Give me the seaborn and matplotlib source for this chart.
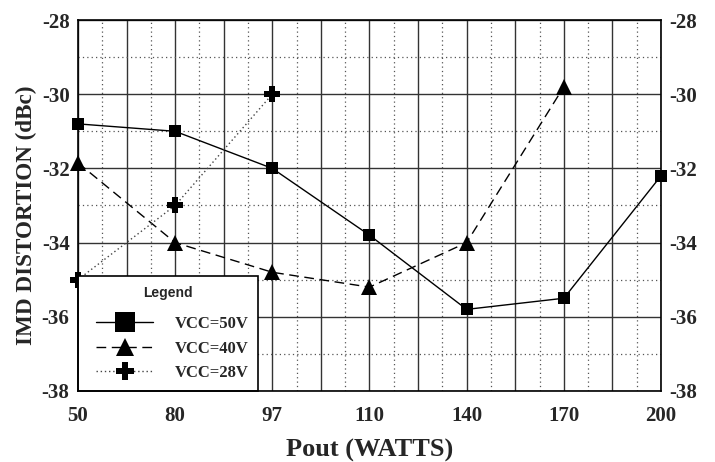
import copy
import numpy as np
import seaborn as sns
import matplotlib.pyplot as plt
from matplotlib.lines import Line2D
from matplotlib.legend_handler import HandlerLine2D
from matplotlib.ticker import MultipleLocator, FuncFormatter

# Pout values are spaced evenly on the axis, so plot against their index
pout = ["50", "80", "97", "110", "140", "170", "200"]

vcc50_x = ["50", "80", "97", "110", "140", "170", "200"]
vcc50_y = [-30.8, -31.0, -32.0, -33.8, -35.8, -35.5, -32.2]

vcc40_x = ["50", "80", "97", "110", "140", "170"]
vcc40_y = [-31.85, -34.0, -34.8, -35.2, -34.0, -29.8]

vcc28_x = ["50", "80", "97"]
vcc28_y = [-35.0, -33.0, -30.0]

sns.set_style("white")
plt.rcParams['font.family'] = ['Liberation Serif', 'DejaVu Serif']
plt.rcParams['axes.unicode_minus'] = False

fig = plt.figure(figsize=(7.15, 4.62), dpi=100)
ax = fig.add_axes([0.109, 0.1537, 0.8155, 0.803])

def idx(xs):
    return [pout.index(v) for v in xs]

sns.lineplot(x=idx(vcc50_x), y=vcc50_y, ax=ax, color="black", lw=1.0,
             linestyle="-", marker="s", markersize=8, markeredgewidth=0,
             clip_on=False, label="VCC=50V")
sns.lineplot(x=idx(vcc40_x), y=vcc40_y, ax=ax, color="black", lw=1.0,
             linestyle=(0, (7, 4)), marker="^", markersize=12, markeredgewidth=0,
             clip_on=False, label="VCC=40V")
sns.lineplot(x=idx(vcc28_x), y=vcc28_y, ax=ax, color="#444444", lw=1.0,
             linestyle=(0, (1, 2)), marker="P", markersize=12, markeredgewidth=0,
             markerfacecolor="black", clip_on=False, label="VCC=28V")

ax.set_xlim(0, len(pout) - 1)
ax.set_ylim(-38, -28)

# grid: solid every half step, dotted every quarter step
ax.xaxis.set_major_locator(MultipleLocator(0.5))
ax.xaxis.set_minor_locator(MultipleLocator(0.25))
ax.xaxis.set_major_formatter(FuncFormatter(
    lambda v, p: pout[int(round(v))] if abs(v - round(v)) < 1e-6 else ""))
ax.yaxis.set_major_locator(MultipleLocator(2))
ax.yaxis.set_minor_locator(MultipleLocator(1))
ax.yaxis.set_major_formatter(FuncFormatter(lambda v, p: "%d" % v))

ax.grid(which="major", color="#333333", lw=1.0, ls="-")
ax.grid(which="minor", color="#555555", lw=0.9, ls=(0, (1, 2.5)))
ax.set_axisbelow(True)

ax.tick_params(which="both", length=0)
ax.tick_params(axis="y", labelright=True, pad=6, labelsize=15)
ax.tick_params(axis="x", pad=11, labelsize=15)
for t in ax.get_xticklabels() + ax.get_yticklabels():
    t.set_fontweight("bold")

for s in ax.spines.values():
    s.set_color("black")
    s.set_linewidth(1.2)
    s.set_zorder(6)

ax.set_xlabel("Pout (WATTS)", fontsize=19, fontweight="bold", labelpad=9)
ax.set_ylabel("IMD DISTORTION (dBc)", fontsize=16.7, fontweight="bold")
ax.yaxis.set_label_coords(-0.071, 0.474)

# legend uses copies so the plotted markers keep their size
handles, labels = ax.get_legend_handles_labels()
handles = [copy.copy(h) for h in handles]
for h, ms in zip(handles, [14, 13, 13]):
    h.set_markersize(ms)
leg = ax.legend(handles, labels, title="Legend", loc="lower left",
                bbox_to_anchor=(0.0, 0.0), frameon=True, fancybox=False,
                borderaxespad=0, handlelength=3.9, handletextpad=1.3,
                borderpad=0.6, labelspacing=0.5,
                handler_map={Line2D: HandlerLine2D(xpad=0.5)},
                prop={"family": "Liberation Serif", "weight": "bold", "size": 12})
leg.get_title().set_fontfamily("Liberation Sans")
leg.get_title().set_fontweight("bold")
leg.get_title().set_fontsize(10)
leg._legend_box.sep = 12
leg.get_frame().set_edgecolor("black")
leg.get_frame().set_linewidth(1.2)
leg.get_frame().set_alpha(1)

fig.savefig("out.png", dpi=100)
